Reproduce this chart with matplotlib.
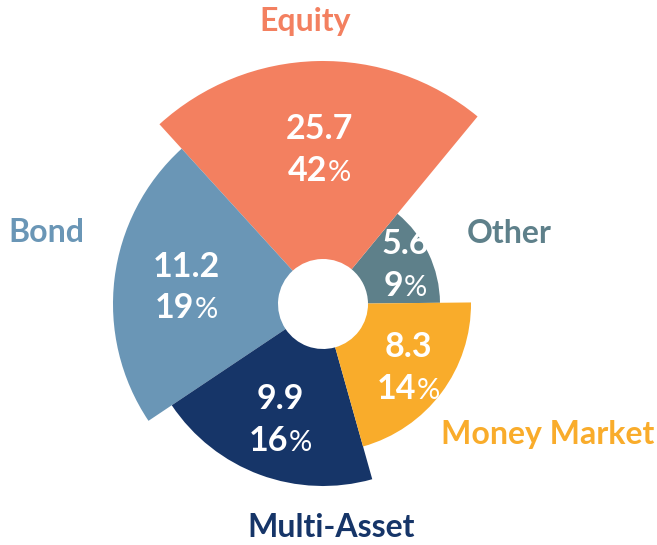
import numpy as np
import matplotlib
matplotlib.use('Agg')
import matplotlib.pyplot as plt
from matplotlib.offsetbox import TextArea, HPacker, VPacker, AnnotationBbox

# Données (sens anti-horaire depuis l'est)
categories = ["Other", "Equity", "Bond", "Multi-Asset", "Money Market"]
values = [5.6, 25.7, 11.2, 9.9, 8.3]
percents = [9, 42, 19, 16, 14]
spans_deg = [49.9, 81.8, 81.5, 71.9, 74.9]
radius = [117, 243, 210, 182, 148]
colors = ["#5E808A", "#F38060", "#6A96B6", "#163568", "#F9AC2B"]

start_deg = 0.6
hole = 45

plt.rcParams['font.family'] = ['Lato', 'DejaVu Sans']

W, H = 657, 545
cx, cy = 323, 304
rmax = 250

fig = plt.figure(figsize=(W / 100, H / 100), dpi=100)
ax = fig.add_axes([(cx - rmax) / W, (H - cy - rmax) / H, 2 * rmax / W, 2 * rmax / H],
                  projection='polar')
ax.set_ylim(0, rmax)
ax.set_axis_off()

spans = np.radians(spans_deg)
starts = np.radians(start_deg) + np.concatenate([[0], np.cumsum(spans)[:-1]])
mids = starts + spans / 2
radius = np.array(radius)

ax.bar(mids, radius - hole, width=spans, bottom=hole, color=colors,
       linewidth=0, align='center')

# Valeurs + pourcentages dans chaque part
for th, r, v, p in zip(mids, radius, values, percents):
    top = TextArea(str(v), textprops=dict(color='white', fontsize=24.5, fontweight='bold'))
    pct = HPacker(children=[
        TextArea(str(p), textprops=dict(color='white', fontsize=24.5, fontweight='bold')),
        TextArea("%", textprops=dict(color='white', fontsize=21, fontweight='normal')),
    ], align='baseline', pad=0, sep=0)
    box = VPacker(children=[top, pct], align='center', pad=0, sep=7)
    ab = AnnotationBbox(box, (th, (hole + r) / 2 + 10), xycoords='data',
                        frameon=False, box_alignment=(0.5, 0.5), pad=0)
    ax.add_artist(ab)

# Noms des catégories autour
label_pos = {
    "Equity": (93.7, 283),
    "Other": (20.9, 199),
    "Bond": (165.6, 286),
    "Money Market": (-30.2, 260),
    "Multi-Asset": (-88.0, 224),
}
for name, col in zip(categories, colors):
    a, r = label_pos[name]
    ax.text(np.radians(a), r, name, color=col, fontsize=23, fontweight='bold',
            ha='center', va='center', clip_on=False)

plt.savefig('out.png', dpi=100)
